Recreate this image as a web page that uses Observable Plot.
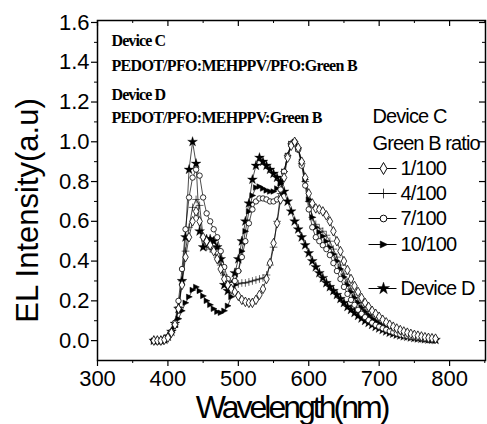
<!DOCTYPE html>
<html><head><meta charset="utf-8">
<script src="https://cdn.jsdelivr.net/npm/d3@7"></script>
<script src="https://cdn.jsdelivr.net/npm/@observablehq/plot@0.6"></script>
<style>body{margin:0;background:#fff}</style>
</head><body><div id="chart"></div>
<script>
const wavelength = [380,385,390,395,400,405,410,415,420,425,430,435,440,445,450,455,460,465,470,475,480,485,490,495,500,505,510,515,520,525,530,535,540,545,550,555,560,565,570,575,580,585,590,595,600,605,610,615,620,625,630,635,640,645,650,655,660,665,670,675,680,685,690,695,700,705,710,715,720,725,730,735,740,745,750,755,760,765,770,775,780];

const ratio1 = [0,0,0,0.005,0.015,0.04,0.08,0.16,0.28,0.42,0.52,0.6,0.65,0.6,0.52,0.5,0.48,0.45,0.41,0.36,0.31,0.28,0.26,0.245,0.225,0.205,0.195,0.19,0.19,0.205,0.23,0.26,0.31,0.39,0.49,0.59,0.71,0.82,0.92,0.98,1.0,0.97,0.9,0.82,0.74,0.69,0.665,0.66,0.65,0.63,0.6,0.55,0.5,0.45,0.4,0.355,0.31,0.275,0.245,0.215,0.19,0.17,0.15,0.135,0.12,0.105,0.092,0.08,0.07,0.061,0.053,0.046,0.04,0.034,0.029,0.025,0.021,0.017,0.014,0.012,0.01];

const ratio4 = [0,0,0,0.005,0.015,0.04,0.08,0.17,0.3,0.45,0.57,0.67,0.71,0.68,0.52,0.47,0.46,0.45,0.42,0.38,0.33,0.3,0.28,0.28,0.285,0.29,0.29,0.295,0.3,0.305,0.31,0.315,0.33,0.38,0.47,0.6,0.74,0.85,0.93,0.99,1.0,0.97,0.89,0.8,0.7,0.62,0.585,0.565,0.55,0.53,0.5,0.46,0.42,0.38,0.335,0.295,0.26,0.23,0.2,0.175,0.155,0.135,0.12,0.105,0.092,0.08,0.07,0.061,0.053,0.046,0.04,0.034,0.029,0.025,0.021,0.018,0.015,0.012,0.01,0.008,0.007];

const ratio7 = [0,0,0,0.005,0.02,0.045,0.09,0.2,0.36,0.56,0.72,0.82,0.86,0.83,0.72,0.64,0.6,0.56,0.52,0.45,0.37,0.31,0.28,0.3,0.35,0.42,0.5,0.59,0.66,0.7,0.715,0.715,0.71,0.7,0.7,0.71,0.76,0.85,0.93,0.99,1.0,0.96,0.88,0.78,0.66,0.57,0.52,0.5,0.48,0.46,0.43,0.39,0.35,0.31,0.27,0.235,0.205,0.18,0.155,0.135,0.118,0.103,0.09,0.079,0.07,0.062,0.055,0.048,0.042,0.036,0.031,0.027,0.023,0.02,0.017,0.014,0.012,0.01,0.008,0.007,0.006];

const ratio10 = [0,0,0,0.005,0.015,0.04,0.07,0.11,0.15,0.19,0.22,0.255,0.27,0.25,0.225,0.2,0.18,0.16,0.145,0.14,0.15,0.175,0.22,0.28,0.35,0.45,0.55,0.65,0.73,0.77,0.775,0.765,0.755,0.75,0.75,0.765,0.79,0.85,0.93,0.99,1.0,0.965,0.9,0.81,0.71,0.62,0.57,0.545,0.525,0.5,0.47,0.435,0.4,0.36,0.32,0.28,0.245,0.215,0.19,0.165,0.145,0.127,0.11,0.097,0.085,0.074,0.065,0.056,0.049,0.042,0.036,0.031,0.027,0.023,0.019,0.016,0.013,0.011,0.009,0.007,0.006];

const deviceD = [0,0,0,0.005,0.02,0.045,0.085,0.16,0.3,0.52,0.86,1.0,0.89,0.55,0.47,0.51,0.51,0.5,0.47,0.41,0.28,0.25,0.28,0.34,0.41,0.5,0.6,0.69,0.81,0.88,0.92,0.9,0.88,0.86,0.84,0.82,0.8,0.75,0.7,0.65,0.6,0.56,0.52,0.48,0.44,0.4,0.37,0.34,0.315,0.29,0.27,0.25,0.23,0.21,0.19,0.17,0.155,0.14,0.125,0.112,0.1,0.09,0.08,0.07,0.062,0.054,0.047,0.041,0.036,0.031,0.027,0.023,0.02,0.017,0.014,0.012,0.01,0.008,0.006,0.005,0.004];

const seriesNames = ["1/100", "4/100", "7/100", "10/100", "Device D"];
const xTicks = [300, 400, 500, 600, 700, 800];
const xTickLabels = ["300", "400", "500", "600", "700", "800"];
const xMinorTicks = [350, 450, 550, 650, 750, 850];
const yTicks = [0, 0.2, 0.4, 0.6, 0.8, 1.0, 1.2, 1.4, 1.6];
const yTickLabels = ["0.0", "0.2", "0.4", "0.6", "0.8", "1.0", "1.2", "1.4", "1.6"];
const yMinorTicks = [0.1, 0.3, 0.5, 0.7, 0.9, 1.1, 1.3, 1.5];
const annotationLines = ["Device C", "PEDOT/PFO:MEHPPV/PFO:Green B", "Device D", "PEDOT/PFO:MEHPPV:Green B"];
const legendHeader = ["Device C", "Green B ratio"];
const xLabel = "Wavelength(nm)";
const yLabel = "EL Intensity(a.u)";

// layout
const W = 487, H = 424;
const mL = 97, mR = 2, mT = 20, mB = 64;
const frameW = W - mL - mR, frameH = H - mT - mB;

const triRight = {draw(c, size) {
  const r = Math.sqrt(size / Math.PI) * 1.2;
  c.moveTo(r, 0); c.lineTo(-r * 0.8, -r * 0.85); c.lineTo(-r * 0.8, r * 0.85); c.closePath();
}};
const legendLine = {draw(c) { c.moveTo(-14, 0); c.lineTo(14, 0); }};

const allSeries = [ratio1, ratio4, ratio7, ratio10, deviceD];
const rows = allSeries.map(vals => wavelength.map((w, i) => ({w, v: vals[i]})));

const markerStyle = [
  {symbol: "diamond", fill: "white", stroke: "black", strokeWidth: 0.8, r: 2.9},
  {symbol: "plus", fill: "none", stroke: "black", strokeWidth: 0.6, r: 2.6},
  {symbol: "circle", fill: "white", stroke: "black", strokeWidth: 0.8, r: 2.7},
  {symbol: triRight, fill: "black", stroke: "black", strokeWidth: 0.5, r: 2.7},
  {symbol: "star", fill: "black", stroke: "black", strokeWidth: 0.3, r: 3.1}
];
const drawOrder = [3, 4, 1, 2, 0];

const marks = [];
rows.forEach(d => marks.push(Plot.line(d, {x: "w", y: "v", stroke: "black", strokeWidth: 0.7})));
drawOrder.forEach(k => marks.push(Plot.dot(rows[k], {x: "w", y: "v", ...markerStyle[k]})));

// axes
const axisFont = {fontSize: 22, fontFamily: "Liberation Sans"};
marks.push(Plot.axisX(xTicks, {anchor: "bottom", tickSize: 6, tickPadding: 4, label: null, strokeWidth: 1.2,
  tickFormat: d => xTickLabels[xTicks.indexOf(d)], ...axisFont}));
marks.push(Plot.axisX(xMinorTicks, {anchor: "bottom", tickSize: 3, fill: "none", label: null}));
marks.push(Plot.axisY(yTicks, {anchor: "left", tickSize: 6, tickPadding: 2, label: null, strokeWidth: 1.2,
  tickFormat: d => yTickLabels[yTicks.indexOf(d)], ...axisFont}));
marks.push(Plot.axisY(yMinorTicks, {anchor: "left", tickSize: 3, fill: "none", label: null}));
marks.push(Plot.ruleX(xTicks, {x: d => d, insetBottom: frameH - 6, stroke: "black", strokeWidth: 1.2}));
marks.push(Plot.ruleX(xMinorTicks, {x: d => d, insetBottom: frameH - 3, stroke: "black"}));
marks.push(Plot.ruleY(yTicks, {y: d => d, insetLeft: frameW - 6, stroke: "black", strokeWidth: 1.2}));
marks.push(Plot.ruleY(yMinorTicks, {y: d => d, insetLeft: frameW - 3, stroke: "black"}));
marks.push(Plot.frame({stroke: "black", strokeWidth: 1.5}));

// axis titles
marks.push(Plot.text([xLabel], {x: null, y: null, text: d => d, frameAnchor: "bottom", dy: 47, lineAnchor: "middle",
  textAnchor: "middle", fontSize: 32, fontFamily: "Liberation Sans", fill: "black"}));
marks.push(Plot.text([yLabel], {x: null, y: null, text: d => d, frameAnchor: "left", dx: -69, dy: 20, rotate: -90,
  textAnchor: "middle", lineAnchor: "middle", fontSize: 31, fontFamily: "Liberation Sans", fill: "black"}));

// annotations (top-left)
const annDy = [20.5, 45.5, 74, 97];
annotationLines.forEach((t, i) => marks.push(Plot.text([t], {x: null, y: null, text: d => d, frameAnchor: "top-left",
  dx: 14, dy: annDy[i], textAnchor: "start", lineAnchor: "middle", fontSize: 16, fontWeight: "bold",
  fontFamily: "Liberation Serif", fill: "black"})));

// legend
const legFont = {fontSize: 20, fontFamily: "Liberation Sans", fill: "black"};
legendHeader.forEach((t, i) => marks.push(Plot.text([t], {x: null, y: null, text: d => d, frameAnchor: "top-left",
  dx: 275, dy: 96.5 + 27 * i, textAnchor: "start", lineAnchor: "middle", ...legFont})));
const legRowDy = [148, 173, 198, 224, 268];
seriesNames.forEach((name, k) => {
  marks.push(Plot.dot([0], {x: null, y: null, frameAnchor: "top-left", dx: 285, dy: legRowDy[k],
    symbol: legendLine, stroke: "black", strokeWidth: 1, fill: "none", r: 3}));
  const st = markerStyle[k];
  marks.push(Plot.dot([0], {x: null, y: null, frameAnchor: "top-left", dx: 286, dy: legRowDy[k], ...st,
    r: st.r * 1.25, strokeWidth: st.strokeWidth * 1.2}));
  marks.push(Plot.text([name], {x: null, y: null, text: d => d, frameAnchor: "top-left", dx: 303, dy: legRowDy[k],
    textAnchor: "start", lineAnchor: "middle", ...legFont}));
});

const chart = Plot.plot({
  width: W, height: H,
  marginLeft: mL, marginRight: mR, marginTop: mT, marginBottom: mB,
  x: {domain: [300, 851]},
  y: {domain: [-0.1, 1.61]},
  style: {background: "white", color: "black", fontFamily: "Liberation Sans"},
  marks
});

// letter spacing (condensed look of the original typesetting)
const spacing = new Map();
spacing.set(xLabel, "-3px");
annotationLines.forEach(t => spacing.set(t, "-0.7px"));
legendHeader.forEach(t => spacing.set(t, "-0.9px"));
seriesNames.forEach(t => spacing.set(t, "-0.9px"));
d3.select(chart).selectAll("text").each(function() {
  const s = spacing.get(this.textContent);
  if (s) this.style.letterSpacing = s;
});
document.getElementById("chart").appendChild(chart);
</script>
</body></html>
